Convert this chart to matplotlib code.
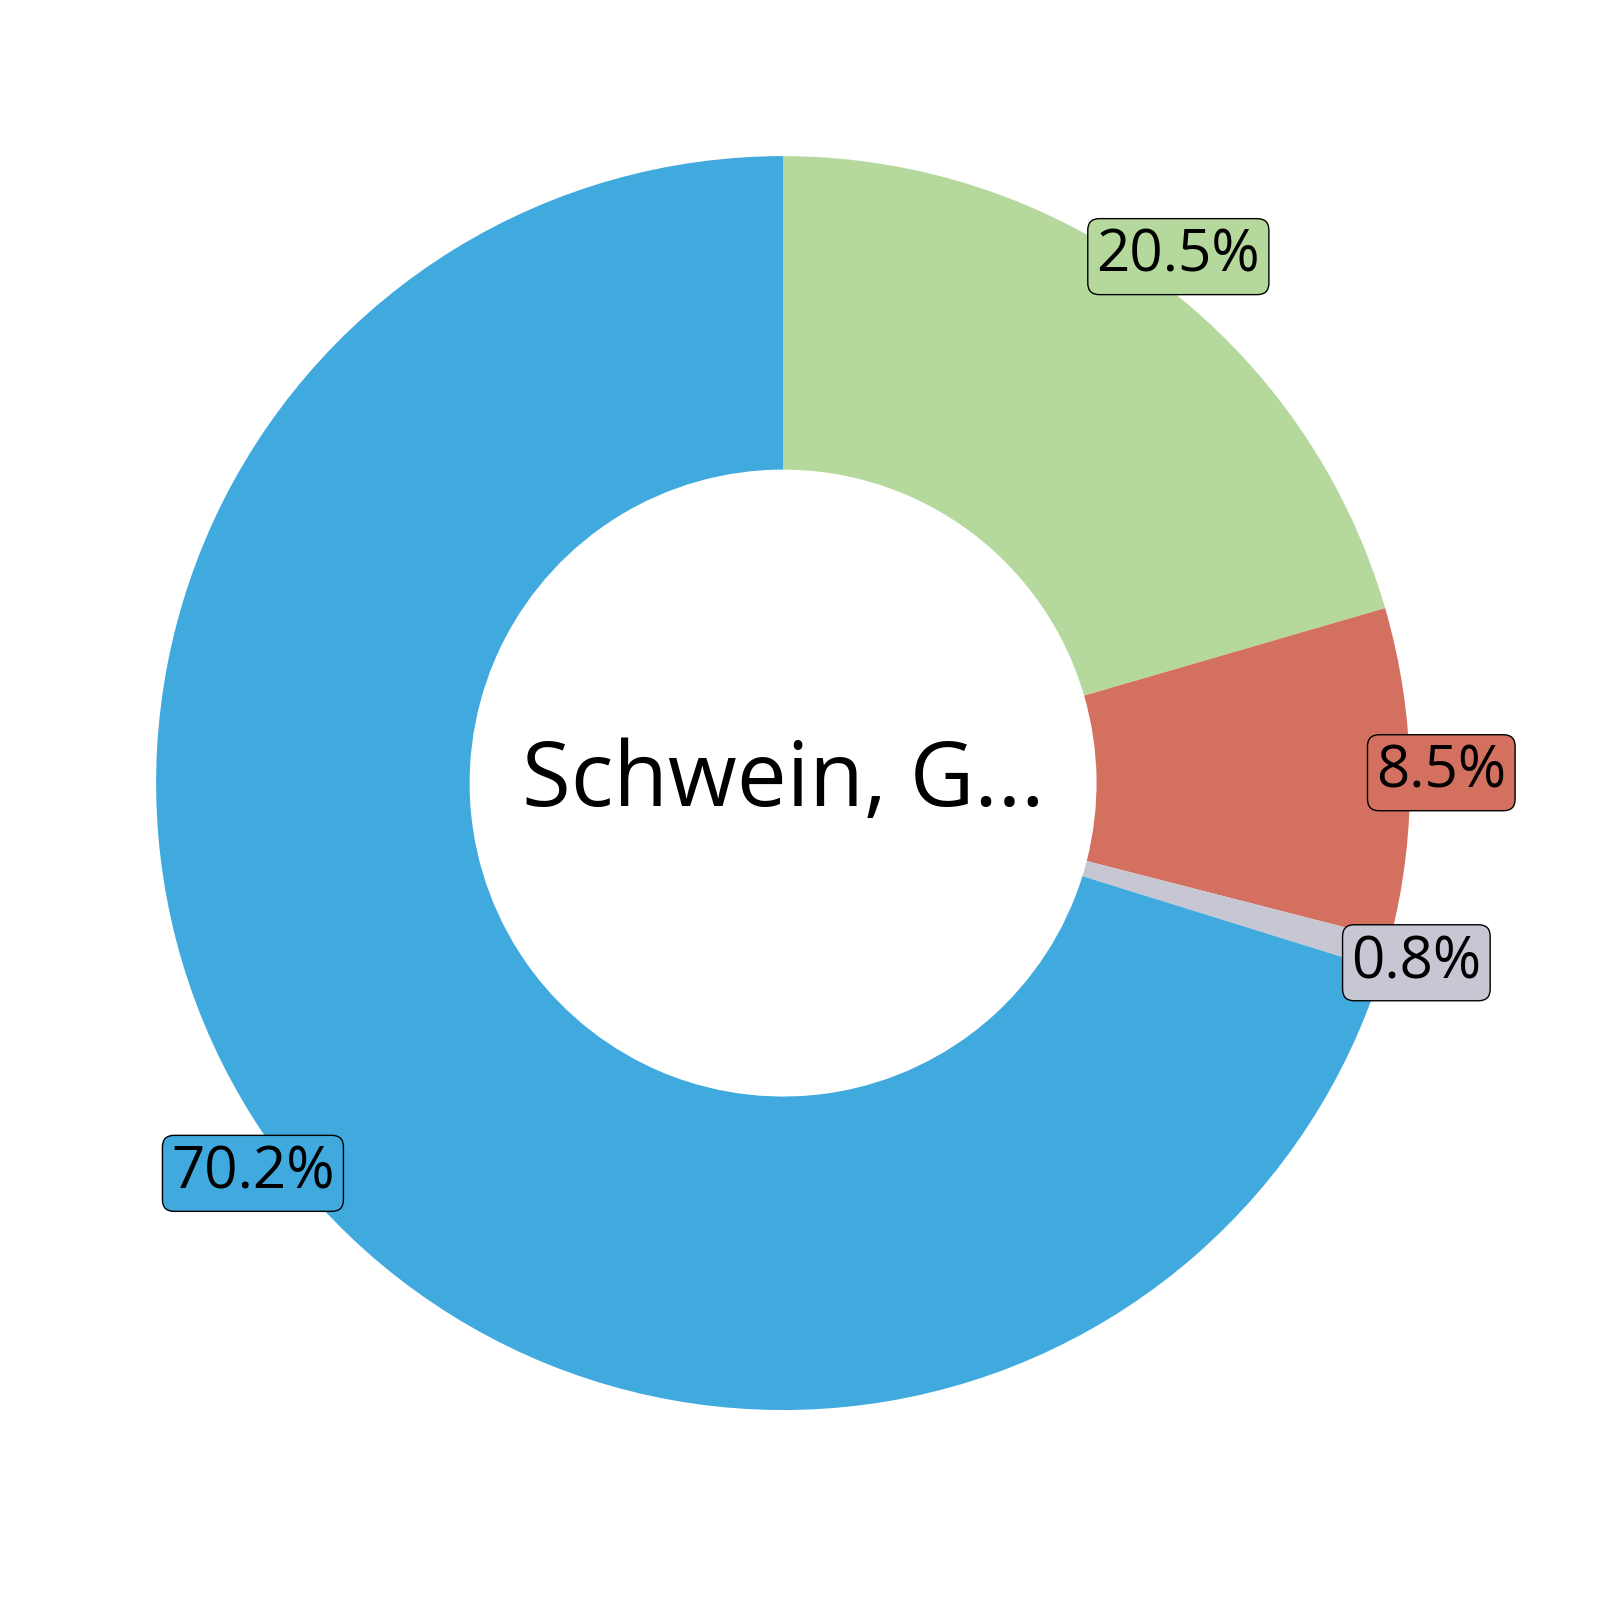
import numpy as np
import matplotlib
matplotlib.use("Agg")
import matplotlib.pyplot as plt

werte = [20.5, 8.5, 0.8, 70.2]
farben = ["#b5d99c", "#d4705f", "#c6c7d3", "#40aadf"]
beschriftung = ["20.5%", "8.5%", "0.8%", "70.2%"]
titel = "Schwein, G..."

plt.rcParams["font.family"] = ["Open Sans", "DejaVu Sans"]

fig = plt.figure(figsize=(16, 16), dpi=100)
ax = fig.add_axes([0, 0, 1, 1])
wedges, _ = ax.pie(werte, colors=farben, startangle=90, counterclock=False,
                   radius=1, wedgeprops=dict(width=0.5, linewidth=0))
ax.set_xlim(-1.249, 1.303)
ax.set_ylim(-1.303, 1.249)
ax.set_aspect("equal")
ax.axis("off")

for w, txt, c in zip(wedges, beschriftung, farben):
    mitte = np.deg2rad((w.theta1 + w.theta2) / 2)
    ax.text(1.05 * np.cos(mitte), 1.05 * np.sin(mitte), txt, ha="center", va="center",
            fontsize=42,
            bbox=dict(boxstyle="round,pad=0.15,rounding_size=0.2", fc=c, ec="black", lw=1))

ax.text(0, 0, titel, ha="center", va="center", fontsize=64)

fig.savefig("out.png")
